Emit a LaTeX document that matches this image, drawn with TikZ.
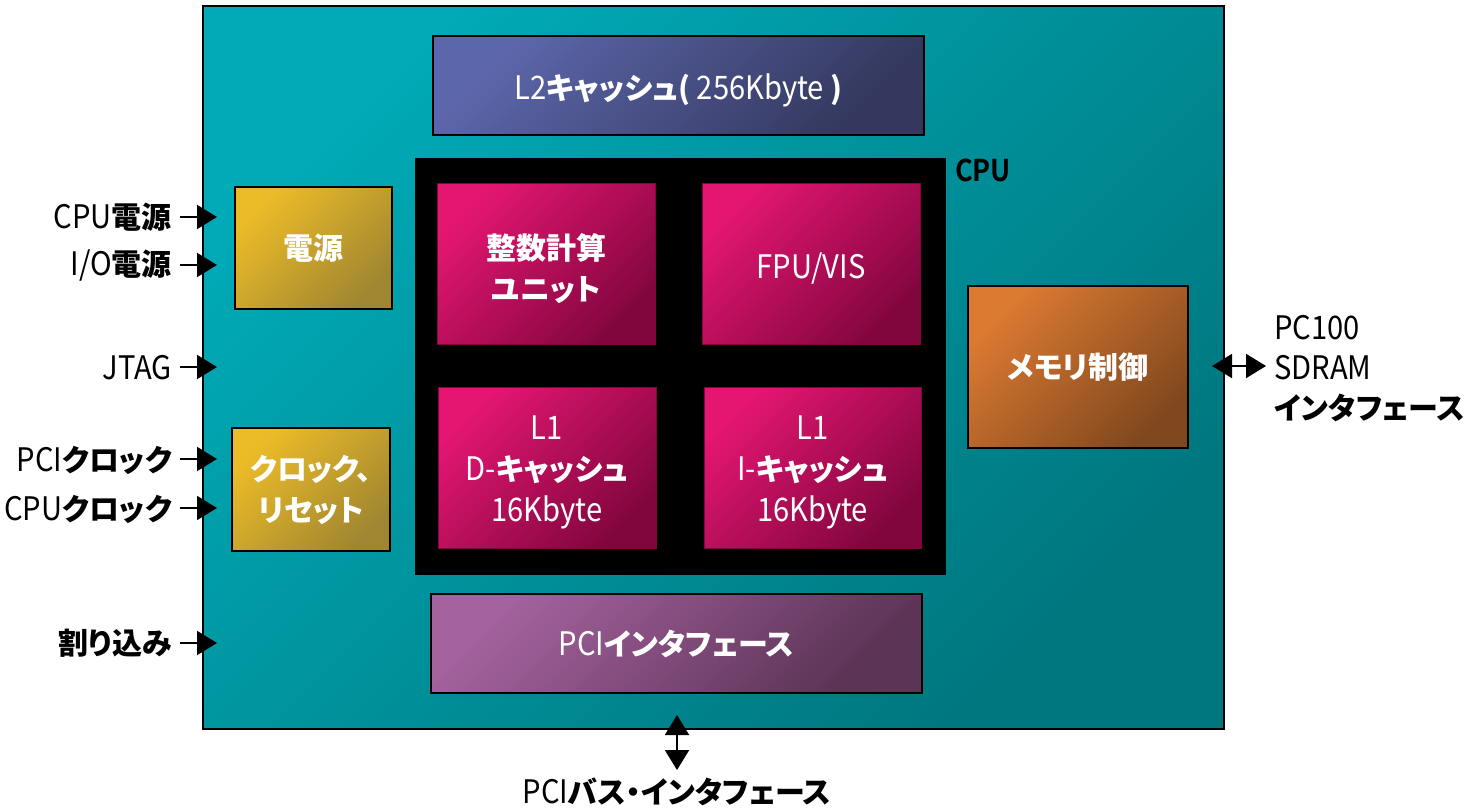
\documentclass[tikz,border=0pt]{standalone}
\usepackage{fontspec}
\setmainfont{Noto Sans CJK JP}[Scale=1.08, FakeStretch=0.9, RawFeature=+palt,
  BoldFeatures={Scale=1.0, FakeStretch=1.0}]
\newfontfamily\cpufont{Noto Sans CJK JP Bold}[FakeStretch=0.9]
\usetikzlibrary{arrows.meta}
\definecolor{tealA}{RGB}{0,170,182}
\definecolor{tealB}{RGB}{0,118,126}
\definecolor{goldA}{RGB}{236,188,40}
\definecolor{goldB}{RGB}{160,134,48}
\definecolor{navyA}{RGB}{92,102,170}
\definecolor{navyB}{RGB}{52,56,94}
\definecolor{magA}{RGB}{228,22,114}
\definecolor{magB}{RGB}{130,6,62}
\definecolor{orA}{RGB}{220,122,50}
\definecolor{orB}{RGB}{128,72,30}
\definecolor{purA}{RGB}{164,98,158}
\definecolor{purB}{RGB}{92,52,86}
\newcommand\jb[1]{{\bfseries #1}}
\tikzset{
  grad/.style 2 args={top color=#1, bottom color=#2, shading angle=45},
  blk/.style={draw=black, line width=1.5pt, inner sep=0pt, text=white,
    align=center, font=\fontsize{30}{41}\selectfont},
  inner/.style={label={[text=white, align=center, inner sep=0pt,
    font=\fontsize{30}{41}\selectfont, yshift=-5pt]center:#1}},
  magbox/.style={blk, draw=magB, line width=0.8pt, grad={magA}{magB},
    minimum width=218pt, minimum height=161pt},
  lab/.style={anchor=east, inner sep=0pt, font=\fontsize{30}{40}\selectfont},
  arr/.style={line width=2pt, -{Triangle[length=20pt,width=24pt]}},
  darr/.style={line width=2pt, {Triangle[length=20pt,width=24pt]}-{Triangle[length=20pt,width=24pt]}}
}
\begin{document}
\begin{tikzpicture}[x=1pt,y=-1pt]
\useasboundingbox (0,0) rectangle (1479,808);
% main
\node[blk, line width=2pt, grad={tealA}{tealB}, minimum width=1021pt, minimum height=723pt] (main) at (713.5,367.5) {};
% L2
\node[blk, grad={navyA}{navyB}, minimum width=491pt, minimum height=99pt,
  inner={L2\jb{キャッシュ(} 256Kbyte \jb{)}}] (l2) at (678.5,85.5) {};
% CPU block
\node[draw=none, fill=black, inner sep=0pt, minimum width=531pt, minimum height=417pt] (cpu) at (680.5,366.5) {};
\node[anchor=west, inner sep=0pt, font=\fontsize{30}{34}\cpufont] (cpul) at (955,170) {CPU};
\node[magbox, inner={\jb{整数計算}\\\jb{ユニット}}] (int) at (546,263.5) {};
\node[magbox, inner={FPU/VIS}] (fpu) at (811,263.5) {};
\node[magbox, inner={L1\\D-\jb{キャッシュ}\\16Kbyte}] (l1d) at (547,467.5) {};
\node[magbox, minimum width=217pt, inner={L1\\I-\jb{キャッシュ}\\16Kbyte}] (l1i) at (812.5,467.5) {};
% power / clock
\node[blk, grad={goldA}{goldB}, minimum width=157pt, minimum height=122pt] (pwr) at (313.5,248) {\jb{電源}};
\node[blk, grad={goldA}{goldB}, minimum width=158pt, minimum height=123pt] (clk) at (311,489.5) {\jb{クロック、}\\\jb{リセット}};
% memory
\node[blk, grad={orA}{orB}, minimum width=220pt, minimum height=162pt] (mem) at (1078,367) {\jb{メモリ制御}};
% PCI
\node[blk, grad={purA}{purB}, minimum width=491pt, minimum height=99pt] (pci) at (676.5,643.5) {PCI\jb{インタフェース}};
% left labels
\node[lab] (a1) at (172,217) {CPU\jb{電源}};
\node[lab] (a2) at (172,266) {I/O\jb{電源}};
\node[lab] (a3) at (172,368) {JTAG};
\node[lab] (a4) at (172,460) {PCI\jb{クロック}};
\node[lab] (a5) at (172,509) {CPU\jb{クロック}};
\node[lab] (a6) at (172,643) {\jb{割り込み}};
\coordinate (t1) at (217,217);
\coordinate (t2) at (217,265);
\coordinate (t3) at (217,367);
\coordinate (t4) at (217,459);
\coordinate (t5) at (217,508);
\coordinate (t6) at (217,643);
\foreach \i in {1,...,6} \draw[arr] ([xshift=8pt]a\i.east |- t\i) -- (t\i);
% right
\node[anchor=west, inner sep=0pt, align=left, font=\fontsize{30}{40}\selectfont] (sd) at (1274,369) {PC100\\SDRAM\\\jb{インタフェース}};
\coordinate (m1) at (1212,366);
\coordinate (m2) at (1266,366);
\draw[darr] (m1) -- (m2);
% bottom
\node[inner sep=0pt, font=\fontsize{30}{40}\selectfont] (bus) at (677,792) {PCI\jb{バス・インタフェース}};
\coordinate (b1) at (677,715);
\coordinate (b2) at (677,770);
\draw[darr] (b1) -- (b2);
\end{tikzpicture}
\end{document}
